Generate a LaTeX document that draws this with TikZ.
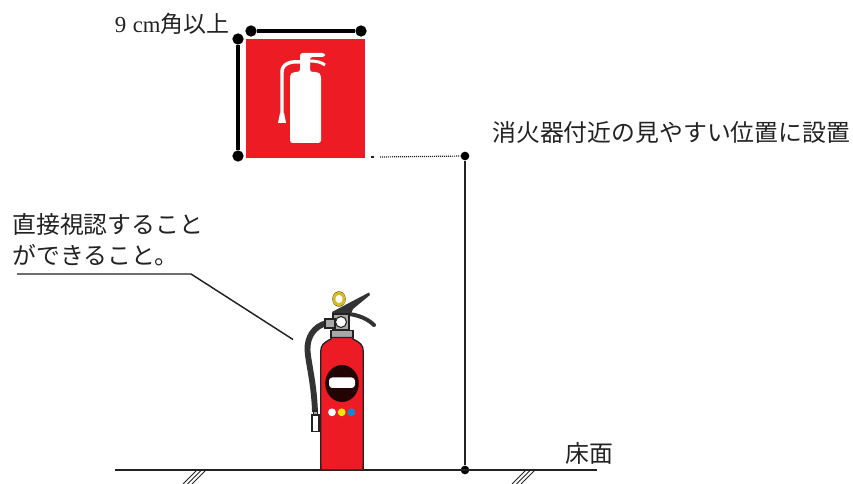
\documentclass[tikz,border=0pt]{standalone}
\usepackage{fontspec}
\setmainfont{Liberation Serif}
\newfontfamily\jpfont{Noto Sans CJK JP}
\definecolor{signred}{HTML}{ED1C24}
\definecolor{inkdark}{HTML}{222222}
\definecolor{hosegray}{HTML}{333333}
\definecolor{metalgray}{HTML}{A8A8A8}
\definecolor{ringyellow}{HTML}{D8BC1E}
\tikzset{
  dotnode/.style={circle,fill=black,inner sep=0pt,minimum size=#1},
  dotnode/.default=9.5pt,
  label text/.style={inner sep=0pt,anchor=west,text=inkdark,font=\jpfont\fontsize{17.9}{21}\selectfont},
  thick line/.style={line width=2.6pt,black},
  thin line/.style={line width=1.1pt,inkdark},
  hatch/.style={line width=0.7pt,inkdark},
}
\begin{document}
\begin{tikzpicture}[x=0.75pt,y=-0.75pt]
\useasboundingbox (0,0) rectangle (853,484);
% sign
\fill[signred] (246,39) rectangle (365,158);
\begin{scope}[white]
\fill[rounded corners=2pt] (290,143) -- (290,75) -- (293,72) -- (300,72) -- (300,62) -- (300,53) -- (325,53) -- (325,57) -- (310,57) -- (310,72) -- (318,72) -- (321,75) -- (321,143) -- cycle;
\draw[line width=2.6pt,line cap=round] (300,62) .. controls (290,61) and (282,64) .. (282,72) -- (282,113);
\draw[line width=2.2pt] (310,61) .. controls (316,61) and (321,62) .. (325,65);
\fill (280,113) -- (284,113) -- (286,123) -- (278,123) -- cycle;
\end{scope}
% dimensions
\node[dotnode=8.5pt] (tl) at (251,31) {};
\node[dotnode=8.5pt] (tr) at (361,31) {};
\draw[thick line] (tl) -- (tr);
\node[dotnode=8.5pt] (lt) at (238,39) {};
\node[dotnode=8.5pt] (lb) at (238,156) {};
\draw[thick line] (lt) -- (lb);
\node[inner sep=0pt,anchor=west,text=inkdark,font=\jpfont\fontsize{17.2}{21}\selectfont] (size) at (114.5,23.5) {{\rmfamily 9\hspace{5pt}\fontsize{17}{18}\selectfont cm}角以上};
% height
\node[dotnode=6.5pt] (hi) at (465,156) {};
\node[dotnode=6.5pt] (lo) at (465,470) {};
\coordinate (dotstart) at (371,157);
\coordinate (dotmid) at (374,157);
\coordinate (dotnext) at (380,157);
\draw[line width=1pt,inkdark] (dotstart) -- (dotmid);
\draw[line width=0.9pt,inkdark,dash pattern=on 0.75pt off 0.75pt] (dotnext) -- (hi);
\draw[thin line] (hi) -- (lo);
\node[label text] (place) at (492,132) {消火器付近の見やすい位置に設置};
% floor
\coordinate (fl) at (115,470);
\coordinate (fr) at (597,470);
\draw[line width=1.2pt,inkdark] (fl) -- (fr);
\node[label text] (floor) at (565,453) {床面};
\foreach \i in {0,1,2}{
  \draw[hatch] (197+\i*4.5,470) -- (183+\i*4.5,484);
  \draw[hatch] (526+\i*4.5,470) -- (512+\i*4.5,484);
}
% leader
\node[label text] (t1) at (12,224) {直接視認すること};
\node[label text] (t2) at (12,255) {ができること。};
\coordinate (l1) at (17,274);
\coordinate (l2) at (191,274);
\coordinate (l3) at (293,339.5);
\draw[thin line] (l1) -- (l2) -- (l3);
% extinguisher
% hose
\draw[hosegray,line width=4.4pt] (327,323) .. controls (314,326) and (307,337) .. (307.5,350) .. controls (308,362) and (314,382) .. (315,412);
% nozzle
\draw[fill=white,draw=inkdark,line width=0.9pt] (312,415) rectangle (319,431.5);
\draw[fill=metalgray,draw=inkdark,line width=0.8pt] (313.5,411) rectangle (317.5,415);
% lever & valve
\draw[hosegray,line width=3pt,line cap=round] (342,314) .. controls (352,313) and (366,317) .. (374,325);
\draw[draw=inkdark,line width=1pt] (339,299) ellipse[x radius=6,y radius=7];
\draw[ringyellow,line width=2.2pt] (339,299) ellipse[x radius=5,y radius=6];
\fill[hosegray] (332,312) -- (349,303) -- (369,292.5) -- (370,295) -- (353,309) -- (350,316) -- (334,316) -- cycle;
\draw[draw=inkdark,fill=metalgray,line width=0.8pt] (333,314) -- (349,314) -- (349,330) -- (333,330) -- cycle;
\draw[draw=inkdark,fill=metalgray,line width=0.8pt] (325,319) rectangle (335,328);
\draw[draw=inkdark,fill=white,line width=0.8pt] (341,322) circle[radius=5.5];
% collar
\draw[draw=inkdark,fill=metalgray,line width=0.8pt] (331,330.5) rectangle (353,337.5);
% body
\draw[fill=signred,draw=inkdark,line width=1pt] (320.8,470) -- (320.8,351) .. controls (320.8,345) and (324,342.5) .. (331,339) -- (331,337.5) -- (353,337.5) -- (353,339) .. controls (360,342.5) and (363.2,345) .. (363.2,351) -- (363.2,470) -- cycle;
\fill[black!45!signred] (320.8,459) -- (322,470) -- (320.8,470) -- cycle;
\fill[black!45!signred] (363.2,459) -- (362,470) -- (363.2,470) -- cycle;
% badge
\fill[black!85!signred] (342,383.5) ellipse[x radius=16.8,y radius=18.5];
\fill[white,rounded corners=2.5pt] (329,377.5) rectangle (355,388);
% colour dots
\fill[white] (332,412.3) circle[radius=3.9];
\fill[yellow!90!orange] (341.7,412.3) circle[radius=3.9];
\fill[cyan!70!blue] (351.3,412.3) circle[radius=3.9];
\end{tikzpicture}
\end{document}
